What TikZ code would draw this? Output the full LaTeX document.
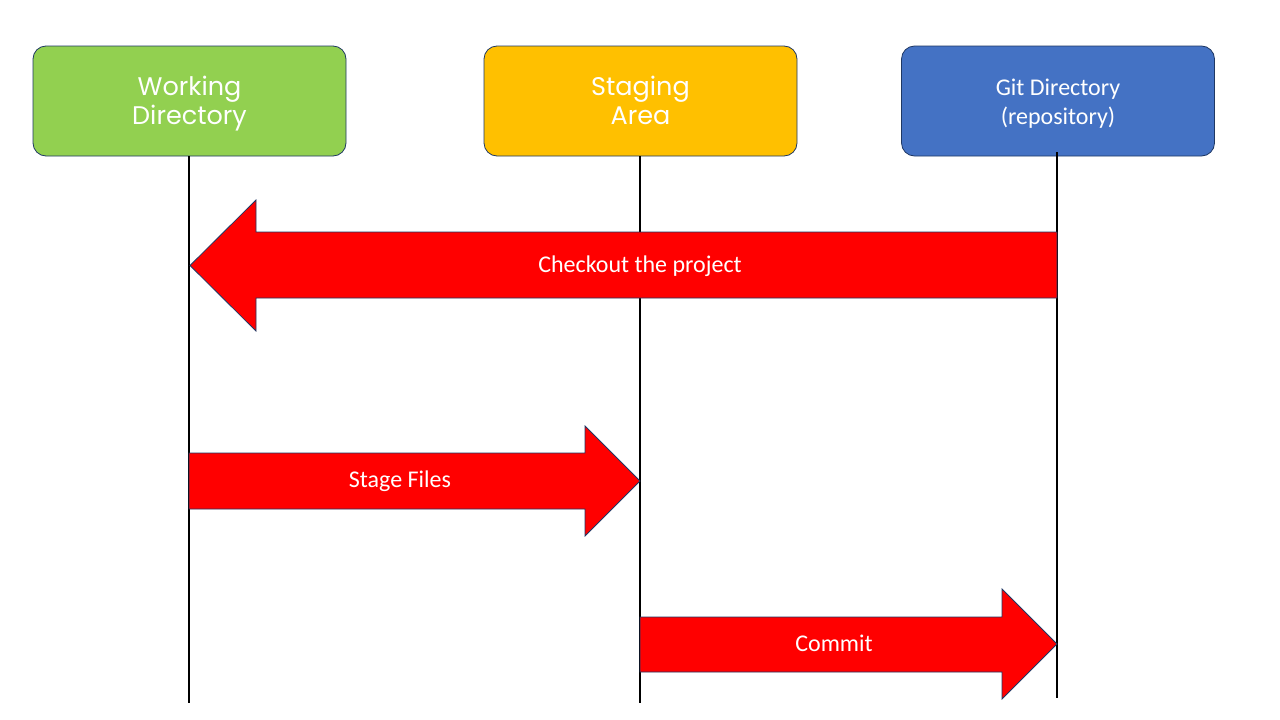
\documentclass[tikz,border=0pt]{standalone}
\usepackage{fontspec}
\newfontfamily\montfont{Poppins}
\newfontfamily\califont{Carlito}
\definecolor{wdgreen}{HTML}{92D050}
\definecolor{sayellow}{HTML}{FFC000}
\definecolor{gitblue}{HTML}{4472C4}
\definecolor{arrred}{HTML}{FF0000}
\definecolor{navy}{HTML}{1F3864}
\newcommand{\topstrut}{\rule{0pt}{25pt}}
\newcommand{\botstrut}{\rule[-8pt]{0pt}{8pt}}
\tikzset{
  areabox/.style={draw=navy, line width=0.8pt, rounded corners=13pt, minimum width=313pt, minimum height=110pt, text=white, align=center, inner sep=0pt},
  lifeline/.style={draw=black, line width=2pt},
  bigarrow/.style={fill=arrred, draw=navy, line width=0.8pt},
  arrlabel/.style={text=white, font=\califont\fontsize{24}{29}\selectfont, inner sep=0pt, anchor=base}
}
\begin{document}
\begin{tikzpicture}[x=1pt,y=-1pt]
\useasboundingbox (0,0) rectangle (1280,720);
\fill[white] (0,0) rectangle (1280,720);
% boxes
\node[areabox, fill=wdgreen, font=\montfont\fontsize{25.5}{29}\selectfont] (wd) at (189.5,101) {\topstrut Working\\Directory\botstrut};
\node[areabox, fill=sayellow, font=\montfont\fontsize{25.5}{29}\selectfont] (sa) at (640.5,101) {\topstrut Staging\\Area\botstrut};
\node[areabox, fill=gitblue, font=\califont\fontsize{24}{29}\selectfont] (git) at (1058,101) {\topstrut Git Directory\\(repository)\botstrut};
% lifeline ends
\coordinate (wdtop) at (189,156);
\coordinate (wdbot) at (189,703);
\coordinate (satop) at (640,156);
\coordinate (sabot) at (640,703);
\coordinate (gittop) at (1057,152);
\coordinate (gitbot) at (1057,698);
\draw[lifeline] (wdtop) -- (wdbot);
\draw[lifeline] (satop) -- (sabot);
\draw[lifeline] (gittop) -- (gitbot);
% checkout arrow
\draw[bigarrow] (1057,232) -- (256,232) -- (256,200) -- (190,265.5) -- (256,331) -- (256,298) -- (1057,298) -- cycle;
\node[arrlabel] (checkout) at (640,272.3) {Checkout the project};
% stage arrow
\draw[bigarrow] (189,453) -- (585,453) -- (585,426) -- (640,481) -- (585,536) -- (585,509) -- (189,509) -- cycle;
\node[arrlabel] (stage) at (400,487.7) {Stage Files};
% commit arrow
\draw[bigarrow] (640,617) -- (1002,617) -- (1002,589) -- (1057,644) -- (1002,699) -- (1002,672) -- (640,672) -- cycle;
\node[arrlabel] (commit) at (834,651.7) {Commit};
\end{tikzpicture}
\end{document}
